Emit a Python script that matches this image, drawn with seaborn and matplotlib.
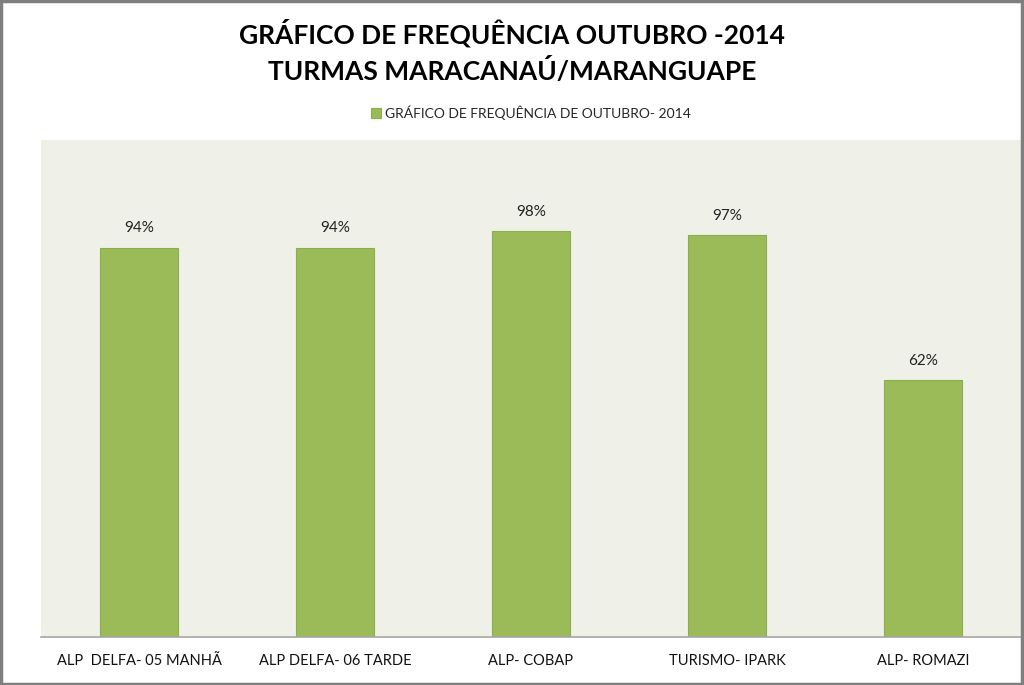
import matplotlib
matplotlib.use("Agg")
import matplotlib.pyplot as plt
import seaborn as sns
import pandas as pd
from matplotlib.patches import Rectangle

# Chart data
turmas = ["ALP  DELFA- 05 MANHÃ", "ALP DELFA- 06 TARDE", "ALP- COBAP", "TURISMO- IPARK", "ALP- ROMAZI"]
frequencia = [0.94, 0.94, 0.98, 0.97, 0.62]
serie = "GRÁFICO DE FREQUÊNCIA DE OUTUBRO- 2014"

df = pd.DataFrame({"turma": turmas, "freq": frequencia, "serie": serie})

sns.set_style("white")
plt.rcParams["font.family"] = ["Lato", "DejaVu Sans"]

fig = plt.figure(figsize=(10.24, 6.85), dpi=100)
ax = fig.add_axes([41 / 1024, 48 / 685, 980 / 1024, 497 / 685])
ax.set_facecolor("#EFF1E9")

sns.barplot(data=df, x="turma", y="freq", hue="serie", palette=["#9BBB59"],
            saturation=1, width=0.4, ax=ax, edgecolor="#8CAD4C", linewidth=0.8)

ax.set_ylim(0, 1.2)
ax.set_xlim(-0.5, len(turmas) - 0.5)
ax.set_yticks([])
ax.set_xlabel("")
ax.set_ylabel("")
for s in ["top", "left", "right"]:
    ax.spines[s].set_visible(False)
ax.spines["bottom"].set_color("#A6A6A6")
ax.spines["bottom"].set_linewidth(1.2)
ax.tick_params(axis="x", length=0, pad=12, labelsize=10.5, colors="#111111")

# Value labels
for cont in ax.containers:
    ax.bar_label(cont, labels=[f"{v:.0%}" for v in frequencia], padding=9,
                 fontsize=11, color="#222222")

# Legend above the plot
ax.legend(loc="center", bbox_to_anchor=(0.5, 1.055), frameon=False, fontsize=10,
          handlelength=0.7, handleheight=0.7, handletextpad=0.3)

fig.text(0.5, 0.972, "GRÁFICO DE FREQUÊNCIA OUTUBRO -2014\nTURMAS MARACANAÚ/MARANGUAPE",
         ha="center", va="top", fontsize=19, fontweight="bold", linespacing=1.45, color="black")

# Outer border
fig.patches.append(Rectangle((0.001, 0.001), 0.997, 0.997, transform=fig.transFigure,
                             fill=False, edgecolor="#7F7F7F", linewidth=2.5))

fig.savefig("out.png", dpi=100)
